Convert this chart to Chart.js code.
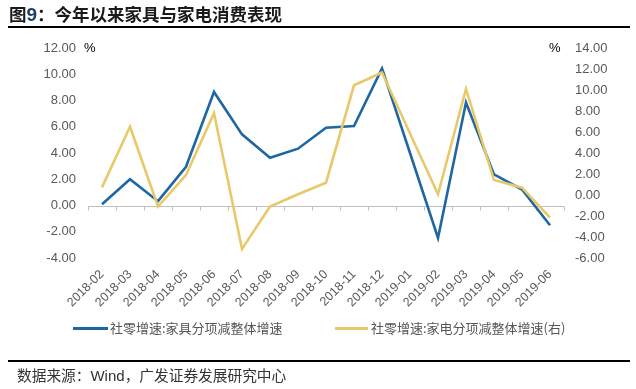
<!DOCTYPE html>
<html>
<head>
<meta charset="utf-8">
<script src="https://cdn.jsdelivr.net/npm/chart.js@4"></script>
<style>
  html, body { margin:0; padding:0; background:#fff; }
  #wrap { position:relative; width:636px; height:389px; overflow:hidden; font-family:"Liberation Sans", Arial, sans-serif; }
  #c { position:absolute; left:0; top:0; }
  .t { position:absolute; white-space:nowrap; }
  #title { left:9px; top:3px; font-family:"Noto Sans CJK SC"; font-weight:bold; font-size:17.5px; color:#1a1a1a; line-height:21px; }
  #title b { font-family:"Liberation Sans", Arial; font-weight:bold; font-size:19px; color:#1f3f66; }
  .hr { position:absolute; left:8px; width:622px; height:2px; background:#000; }
  #src { left:17px; top:365px; font-family:"Noto Sans CJK SC"; font-size:14.7px; color:#333; line-height:20px; }
  #src span { font-family:"Liberation Sans", Arial; font-size:15px; }
  .unit { font-size:13px; color:#000; line-height:14px; }
  .leg { font-family:"Noto Sans CJK SC"; font-size:13px; color:#555; line-height:16px; }
  .sw { position:absolute; height:3px; }
</style>
</head>
<body>
<div id="wrap">
  <canvas id="c" width="636" height="389"></canvas>
  <div id="title" class="t">图<b>9</b>：今年以来家具与家电消费表现</div>
  <div class="hr" style="top:26px"></div>
  <div class="t unit" style="left:84px; top:41px">%</div>
  <div class="t unit" style="left:549px; top:41px">%</div>
  <div class="sw" style="left:73px; top:327px; width:35px; background:#1f67a0"></div>
  <div class="t leg" style="left:110px; top:320px">社零增速:家具分项减整体增速</div>
  <div class="sw" style="left:335px; top:327px; width:33px; background:#e8c96a"></div>
  <div class="t leg" style="left:371px; top:320px">社零增速:家电分项减整体增速(右)</div>
  <div class="hr" style="top:360px"></div>
  <div id="src" class="t">数据来源：<span>Wind</span>，广发证券发展研究中心</div>
</div>
<script>
const categories = ["2018-02","2018-03","2018-04","2018-05","2018-06","2018-07","2018-08","2018-09","2018-10","2018-11","2018-12","2019-01","2019-02","2019-03","2019-04","2019-05","2019-06"];
const furnitureSeries = [0.1, 2.0, 0.33, 2.95, 8.65, 5.42, 3.64, 4.33, 5.93, 6.05, 10.45, 4.0, -2.47, 7.84, 2.37, 1.22, -1.5];
const applianceSeries = [0.73, 6.5, -1.1, 1.9, 7.8, -5.13, -1.1, 0.07, 1.17, 10.45, 11.66, 5.86, 0.07, 10.1, 1.43, 0.7, -2.15];
const leftTicks = {min:-4, max:12, step:2};
const rightTicks = {min:-6, max:14, step:2};

const zeroAxis = {
  id:'zeroAxis',
  beforeDatasetsDraw(chart){
    const {ctx, chartArea:a, scales} = chart;
    const y = Math.round(scales.y.getPixelForValue(0)) + 0.5;
    ctx.save();
    ctx.strokeStyle = '#bfbfbf';
    ctx.lineWidth = 1;
    ctx.beginPath();
    ctx.moveTo(a.left, y); ctx.lineTo(a.right, y);
    const n = categories.length;
    for (let i = 0; i <= n; i++) {
      const x = Math.round(a.left + i * (a.right - a.left) / n) + 0.5;
      ctx.moveTo(x, y); ctx.lineTo(x, y + 4);
    }
    ctx.stroke();
    ctx.restore();
  }
};

new Chart(document.getElementById('c'), {
  type:'line',
  data:{
    labels:categories,
    datasets:[
      {label:'社零增速:家具分项减整体增速', data:furnitureSeries, yAxisID:'y', borderColor:'#1f67a0', borderWidth:2.6, pointRadius:0, tension:0, order:1},
      {label:'社零增速:家电分项减整体增速(右)', data:applianceSeries, yAxisID:'y1', borderColor:'#e8c96a', borderWidth:2.6, pointRadius:0, tension:0, order:0}
    ]
  },
  options:{
    responsive:false,
    animation:false,
    layout:{padding:{top:48, bottom:0, left:0, right:0}},
    plugins:{legend:{display:false}, tooltip:{enabled:false}},
    scales:{
      x:{
        offset:true,
        grid:{display:false, drawTicks:false},
        border:{display:false},
        ticks:{color:'#595959', font:{family:'Liberation Sans', size:12.5}, minRotation:45, maxRotation:45, padding:9, autoSkip:false},
        afterFit(s){ s.height = 131; }
      },
      y:{
        position:'left', min:leftTicks.min, max:leftTicks.max,
        grid:{display:false, drawTicks:false}, border:{display:false},
        ticks:{stepSize:leftTicks.step, color:'#595959', font:{family:'Liberation Sans', size:13}, padding:12, callback:v=>v.toFixed(2)},
        afterFit(s){ s.width = 88; }
      },
      y1:{
        position:'right', min:rightTicks.min, max:rightTicks.max,
        grid:{display:false, drawTicks:false}, border:{display:false},
        ticks:{stepSize:rightTicks.step, color:'#595959', font:{family:'Liberation Sans', size:13}, padding:11, callback:v=>v.toFixed(2)},
        afterFit(s){ s.width = 72; }
      }
    }
  },
  plugins:[zeroAxis]
});
</script>
</body>
</html>
